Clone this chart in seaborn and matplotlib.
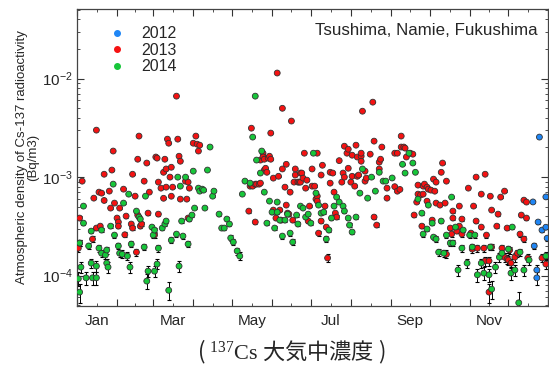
import numpy as np
import pandas as pd
import seaborn as sns
import matplotlib
import matplotlib.pyplot as plt
from matplotlib.lines import Line2D
from matplotlib.ticker import NullFormatter

sns.set_style("ticks")
matplotlib.rcParams['font.family'] = ['Liberation Sans', 'DejaVu Sans']
matplotlib.rcParams['mathtext.fontset'] = 'custom'
matplotlib.rcParams['mathtext.rm'] = 'Liberation Serif'

# day of year (Jan 1 = 0) and Cs-137 density (Bq/m3)
day2012 = [353, 354, 356, 356, 357, 358, 360, 363, 363, 364]
cs2012 = [5.6e-4, 2.0e-4, 1.14e-4, 9.5e-5, 3.5e-4, 2.55e-3, 2.9e-4, 6.3e-4, 3.1e-4, 2.4e-4]

day2013 = [1, 2, 2, 4, 12, 13, 15, 15, 17, 18, 19, 21, 21, 25, 26, 27, 28, 29, 31, 32,
           32, 33, 36, 37, 38, 42, 43, 43, 45, 46, 47, 47, 48, 49, 50, 52, 54, 55, 56, 60,
           61, 62, 63, 63, 65, 67, 67, 68, 69, 69, 70, 71, 72, 73, 73, 74, 77, 78, 79, 80,
           80, 84, 85, 86, 86, 87, 90, 92, 93, 94, 95,
           133, 134, 135, 135, 136, 138, 138, 139, 141, 142, 142, 144, 144, 145, 145, 146, 147, 148, 149, 150,
           150, 152, 152, 154, 155, 156, 157, 158, 159, 159, 161, 162, 162, 163, 164, 165, 166, 167, 168, 169,
           169, 171, 172, 173, 173, 174, 175, 176, 177, 178, 179, 180, 182, 182, 184, 185, 186, 186, 186, 187,
           189, 189, 190, 192, 193, 194, 196, 196, 198, 199, 200, 201, 203, 205, 206, 207, 207, 209, 210, 210,
           212, 213, 213, 215, 216, 217, 217, 218, 220, 220, 220, 221, 223, 223, 224, 227, 229, 230, 230, 232,
           234, 234, 235, 236, 240, 240,
           246, 246, 248, 248, 250, 251, 251, 253, 254, 255, 258, 260, 261, 263, 264, 264, 266, 267, 268, 268,
           269, 271, 271, 272, 274, 275, 276, 277, 278, 278, 281, 282, 283, 285, 286, 286, 289, 290, 291, 291,
           294, 296, 296, 298, 298, 303, 305, 306, 307, 309, 309, 310, 313, 313, 315, 316, 316, 317, 319, 319,
           320, 321, 321, 325, 326, 328, 329, 331, 331, 333, 333, 334, 335, 336, 339, 341, 343, 344, 346, 346,
           348, 348, 349, 360, 363]
cs2013 = [1.9e-4, 3.84e-4, 2.14e-4, 9.1e-4, 2.35e-4, 6.12e-4, 3.0e-3, 3.04e-4, 7.04e-4, 3.18e-4,
          6.88e-4, 1.07e-3, 5.8e-4, 7.21e-4, 4.85e-4, 1.18e-3, 1.84e-3, 5.45e-4, 3.84e-4, 3.5e-4,
          3.18e-4, 4.85e-4, 7.55e-4, 2.6e-4, 4.02e-4, 3.34e-4, 1.07e-3, 3.04e-4, 6.41e-4, 1.73e-4,
          1.52e-3, 4.12e-4, 2.61e-3, 3.18e-4, 3.34e-4, 9.1e-4, 1.39e-3, 4.31e-4, 7.04e-4, 2.58e-4,
          1.6e-3, 1.56e-3, 8.9e-4, 4.21e-4, 7.73e-4, 1.12e-3, 6.1e-4, 1.52e-3, 7.91e-4, 1.21e-3,
          2.43e-3, 2.21e-3, 1.0e-3, 6.4e-4, 1.26e-3, 7.91e-4, 6.64e-3, 2.43e-3, 1.63e-3, 1.45e-3,
          5.98e-4, 9.1e-4, 5.98e-4, 8.9e-4, 3.84e-4, 7.73e-4, 2.21e-3, 2.61e-3, 2.16e-3, 1.84e-3,
          2.11e-3,
          4.52e-4, 8.1e-4, 3.14e-3, 8.29e-4, 8.1e-4, 8.49e-4, 3.5e-4, 8.49e-4, 8.49e-4, 1.49e-3,
          8.69e-4, 1.75e-3, 1.6e-3, 1.18e-3, 1.52e-3, 1.23e-3, 1.12e-3, 1.56e-3, 1.63e-3, 2.8e-3,
          1.52e-3, 9.77e-4, 4.63e-4, 3.84e-4, 1.14e-2, 1.02e-3, 4.63e-4, 3.66e-4, 5.0e-3, 1.21e-3,
          7.91e-4, 1.35e-3, 5.2e-4, 4.31e-4, 4.21e-4, 7.04e-4, 3.71e-3, 3.66e-4, 8.9e-4, 1.21e-3,
          1.05e-3, 8.9e-4, 8.9e-4, 1.1e-3, 8.9e-4, 1.1e-3, 9.77e-4, 1.75e-3, 7.73e-4, 9.32e-4,
          3.58e-4, 5.08e-4, 1.21e-3, 8.1e-4, 8.1e-4, 5.98e-4, 1.75e-3, 6.41e-4, 5.71e-4, 2.7e-4,
          1.05e-3, 3.58e-4, 1.32e-3, 5.08e-4, 3.11e-4, 1.51e-4, 1.12e-3, 8.69e-4, 1.1e-3, 7.04e-4,
          4.31e-4, 3.93e-4, 1.47e-3, 8.9e-4, 1.1e-3, 2.06e-3, 1.0e-3, 1.75e-3, 1.92e-3, 1.23e-3,
          8.9e-4, 1.67e-3, 1.02e-3, 8.1e-4, 2.11e-3, 1.6e-3, 1.02e-3, 1.05e-3, 1.63e-3, 1.75e-3,
          1.45e-3, 4.67e-3, 1.15e-3, 9.1e-4, 9.77e-4, 1.71e-3, 5.77e-3, 2.32e-3, 3.93e-4, 3.26e-4,
          1.21e-3, 1.42e-3, 1.52e-3, 2.02e-3, 7.73e-4, 6.12e-4,
          1.75e-3, 8.0e-4, 1.75e-3, 7.2e-4, 7.5e-4, 2.61e-3, 2.02e-3, 2.02e-3, 1.97e-3, 1.6e-3,
          1.75e-3, 1.71e-3, 4.12e-4, 5.58e-4, 6.72e-4, 8.3e-4, 6.6e-4, 3.18e-4, 8.1e-4, 6.72e-4,
          8.49e-4, 7.91e-4, 5.7e-4, 7.55e-4, 7.38e-4, 3.66e-4, 9.54e-4, 7.2e-4, 8.9e-4, 5.45e-4,
          5.2e-4, 1.12e-3, 1.39e-3, 5.45e-4, 9.1e-4, 1.65e-4, 3.04e-4, 2.64e-4, 4.52e-4, 3.84e-4,
          2.83e-4, 5.08e-4, 3.18e-4, 3.75e-4, 2.64e-4, 7.73e-4, 2.7e-4, 1.86e-4, 5.08e-4, 1.0e-3,
          3.58e-4, 1.9e-4, 6.72e-4, 3.11e-4, 1.9e-4, 1.07e-3, 1.41e-4, 2.58e-4, 1.41e-4, 6.8e-5,
          6.4e-4, 4.63e-4, 1.95e-4, 3.18e-4, 4.21e-4, 6.27e-4, 1.9e-4, 7.21e-4, 1.54e-4, 3.04e-4,
          1.47e-4, 1.44e-4, 1.82e-4, 1.34e-4, 1.54e-4, 1.69e-4, 2.64e-4, 4.12e-4, 5.84e-4, 2.35e-4,
          5.58e-4, 3.84e-4, 1.51e-4, 1.51e-4, 1.31e-4]

day2014 = [1, 2, 2, 3, 5, 5, 7, 9, 11, 11, 12, 15, 15, 17, 19, 19, 22, 23, 23, 24,
           26, 28, 29, 32, 33, 35, 36, 39, 40, 41, 42, 46, 48, 49, 52, 53, 54, 55, 58, 59,
           60, 60, 62, 63, 66, 68, 69, 71, 73, 77, 78, 79, 80, 81, 82, 84, 86, 87, 89, 90,
           91, 94, 95, 97, 98, 99, 101, 103, 105, 106, 110, 112, 114, 116, 118, 119, 121, 124, 126, 128,
           130, 134, 136, 138, 139, 142, 143, 145, 147, 149, 151, 153, 155, 155, 157, 159, 161, 163, 165, 167,
           170, 171, 173, 175, 177, 179, 181, 183, 185, 187, 189, 191, 193, 195, 197, 199, 201, 203, 206, 207,
           210, 211, 213, 216, 219, 221, 225, 228, 231, 234, 237, 239, 244, 252, 254, 257, 260, 262, 264, 267,
           268, 271, 272, 275, 276, 278, 280, 282, 284, 286, 289, 290, 291, 293, 295, 298, 299, 302, 304, 306,
           308, 310, 313, 315, 319, 320, 321, 324, 327, 329, 334, 336, 337, 339, 342, 343, 346, 350, 363]
cs2014 = [9.3e-5, 2.14e-4, 6.8e-5, 1.22e-4, 5.08e-4, 3.41e-4, 9.5e-5, 2.0e-4, 2.83e-4, 1.34e-4,
          9.5e-5, 1.25e-4, 9.5e-5, 1.9e-4, 2.9e-4, 1.69e-4, 1.62e-4, 1.82e-4, 1.34e-4, 1.22e-4,
          3.18e-4, 8.49e-4, 2.58e-4, 2.0e-4, 1.69e-4, 1.65e-4, 5.45e-4, 1.58e-4, 6.72e-4, 1.22e-4,
          2.09e-4, 4.52e-4, 3.93e-4, 3.75e-4, 1.95e-4, 6.41e-4, 8.8e-5, 1.11e-4, 3.11e-4, 2.58e-4,
          2.9e-4, 1.11e-4, 1.31e-4, 1.9e-4, 3.04e-4, 3.34e-4, 3.58e-4, 7.1e-5, 2.29e-4, 2.64e-4,
          1.0e-3, 1.25e-4, 8.1e-4, 3.58e-4, 2.52e-4, 1.0e-3, 2.09e-4, 3.75e-4, 4.12e-4, 1.15e-3,
          4.85e-4, 7.73e-4, 7.21e-4, 7.55e-4, 7.38e-4, 4.85e-4, 1.18e-3, 2.02e-3, 6.41e-4, 7.21e-4,
          4.21e-4, 3.04e-4, 3.04e-4, 3.75e-4, 3.34e-4, 2.41e-4, 2.19e-4, 1.78e-4, 1.58e-4, 6.72e-4,
          9.11e-4, 8.69e-4, 2.55e-3, 6.64e-3, 1.49e-3, 1.1e-3, 1.84e-3, 7.04e-4, 3.41e-4, 5.71e-4,
          4.41e-4, 3.04e-4, 5.58e-4, 4.41e-4, 3.66e-4, 2.52e-4, 3.66e-4, 4.21e-4, 2.7e-4, 2.19e-4,
          4.12e-4, 3.34e-4, 5.08e-4, 4.85e-4, 3.93e-4, 4.21e-4, 3.41e-4, 1.75e-3, 6.88e-4, 5.2e-4,
          4.31e-4, 4.41e-4, 2.35e-4, 2.9e-4, 3.84e-4, 5.08e-4, 6.27e-4, 5.58e-4, 5.08e-4, 4.52e-4,
          3.84e-4, 3.26e-4, 2.77e-4, 3.93e-4, 6.88e-4, 1.21e-3, 6.12e-4, 1.0e-3, 7.21e-4, 1.12e-3,
          9.11e-4, 9.11e-4, 9.8e-4, 1.35e-3, 1.1e-3, 1.75e-3, 1.39e-3, 1.12e-3, 5.98e-4, 4.31e-4,
          2.64e-4, 2.97e-4, 5.2e-4, 3.41e-4, 2.46e-4, 2.35e-4, 1.73e-4, 3.58e-4, 1.69e-4, 2.58e-4,
          2.14e-4, 6.27e-4, 2.14e-4, 3.11e-4, 1.14e-4, 1.9e-4, 2.9e-4, 1.34e-4, 2.58e-4, 1.95e-4,
          2.58e-4, 1.02e-4, 1.34e-4, 1.06e-4, 1.02e-4, 1.95e-4, 7.3e-5, 1.22e-4, 1.54e-4, 1.69e-4,
          1.86e-4, 1.06e-4, 3.11e-4, 1.14e-4, 5.3e-5, 1.73e-4, 1.14e-4, 1.44e-4, 1.58e-4]

cs_err = 1.5e-5  # measurement error (Bq/m3)

years = ["2012", "2013", "2014"]
colors = {"2012": "#1f86f5", "2013": "#f51212", "2014": "#17c63a"}

month_names = ["Jan", "", "Mar", "", "May", "", "Jul", "", "Sep", "", "Nov", ""]
month_start = [0, 31, 59, 90, 120, 151, 181, 212, 243, 273, 304, 334, 365]
month_mid = [(a + b) / 2 for a, b in zip(month_start[:-1], month_start[1:])]

df = pd.concat([
    pd.DataFrame({"day": day2012, "cs": cs2012, "year": "2012"}),
    pd.DataFrame({"day": day2013, "cs": cs2013, "year": "2013"}),
    pd.DataFrame({"day": day2014, "cs": cs2014, "year": "2014"}),
], ignore_index=True)

fig, ax = plt.subplots(figsize=(5.49, 3.72), dpi=100)
fig.subplots_adjust(left=0.1403, right=0.999, top=0.976, bottom=0.177)

for y in years:
    sub = df[df.year == y]
    ax.errorbar(sub.day, sub.cs, yerr=cs_err, fmt='none', ecolor='black',
                elinewidth=0.7, capsize=1.6, capthick=0.8, zorder=2)

sns.scatterplot(data=df, x="day", y="cs", hue="year", palette=colors, s=18,
                edgecolor="#333333", linewidth=0.6, legend=False, ax=ax, zorder=3)

ax.set_yscale('log')
ax.set_ylim(4.9e-5, 5.1e-2)
ax.set_xlim(0, 365)

ax.set_xticks(month_start)
ax.set_xticklabels([])
ax.set_xticks(month_mid, minor=True)
ax.set_xticklabels(month_names, minor=True)
ax.yaxis.set_minor_formatter(NullFormatter())

ax.tick_params(which='both', direction='in', top=True, right=True, color='#333333')
ax.tick_params(which='major', length=5, width=0.8)
ax.tick_params(which='minor', length=2.5, width=0.6)
ax.tick_params(axis='x', which='minor', labelsize=11, pad=6)
ax.tick_params(axis='y', which='major', labelsize=11, pad=3)

for sp in ax.spines.values():
    sp.set_color('#444444')
    sp.set_linewidth(0.9)

ax.set_xlabel("")
ax.set_ylabel("Atmospheric density of Cs-137 radioactivity\n(Bq/m3)",
              fontsize=9.5, linespacing=0.95, labelpad=2)

ax.text(0.977, 0.928, "Tsushima, Namie, Fukushima", transform=ax.transAxes,
        ha='right', va='center', fontsize=12.2)

handles = [Line2D([], [], marker='o', ls='', color=colors[y], markersize=4) for y in years]
ax.legend(handles, years, loc='upper left', bbox_to_anchor=(0.04, 0.99), frameon=False,
          fontsize=11.5, handlelength=0.8, handletextpad=1.15, labelspacing=0.1)

fig.text(0.53, 0.054, r"( $\mathrm{{}^{137}Cs}$ 大気中濃度 )", family='Noto Sans CJK JP',
         fontsize=16, ha='center', va='center')

plt.savefig("out.png", dpi=100)
